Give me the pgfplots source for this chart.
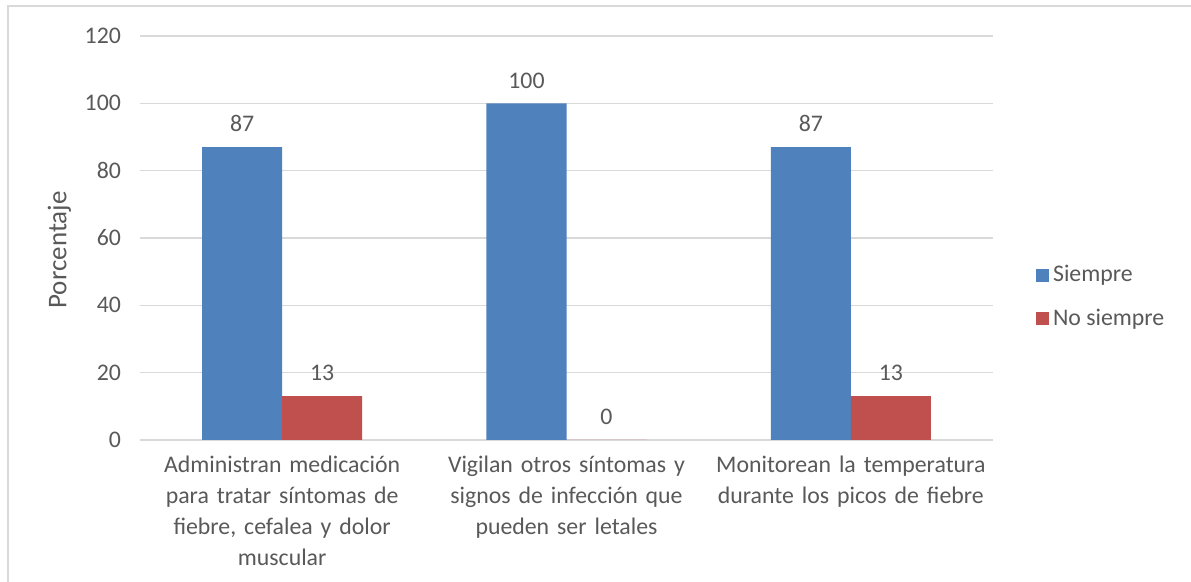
\documentclass[border=0pt]{standalone}
\usepackage{pgfplots}
\pgfplotsset{compat=1.18}
\usepackage{fontspec}
\setmainfont{Carlito}
\definecolor{txt}{HTML}{595959}
\definecolor{gridc}{HTML}{D9D9D9}
\definecolor{sblue}{HTML}{4F81BD}
\definecolor{sred}{HTML}{C0504D}
\begin{document}
\begin{tikzpicture}[x=0.5pt,y=0.5pt]
\path[use as bounding box] (0,0) rectangle (1191,582);
\fill[white] (0,0) rectangle (1191,582);
\draw[gridc, line width=1pt] (8,0) -- (8,576) -- (1191,576);
\begin{axis}[
  at={(70pt,71pt)}, anchor=south west,
  scale only axis, width=426.5pt, height=202pt,
  ybar=0pt, bar width=40pt,
  xmin=-0.5, xmax=2.5, ymin=0, ymax=120,
  ytick={0,20,...,120},
  xtick={0,1,2},
  xticklabels={{Administran medicación\\para tratar síntomas de\\fiebre, cefalea y dolor\\muscular},
               {Vigilan otros síntomas y\\signos de infección que\\pueden ser letales},
               {Monitorean la temperatura\\durante los picos de fiebre}},
  xticklabel style={align=center, text width=140pt, anchor=north, yshift=-4.5pt, font=\fontsize{11.9}{15.5}\selectfont, text=txt},
  yticklabel style={font=\fontsize{11.9}{14}\selectfont, text=txt, xshift=-6pt},
  /pgf/number format/assume math mode=true,
  major tick length=0pt,
  ymajorgrids, grid style={gridc, line width=0.8pt},
  axis line style={draw=none},
  ylabel={Porcentaje},
  ylabel style={font=\fontsize{13.5}{16}\selectfont, text=txt},
  every axis y label/.append style={at={(ticklabel cs:0.5)}, xshift=-6pt},
  nodes near coords,
  every node near coord/.append style={font=\fontsize{11.9}{14}\selectfont, text=txt, yshift=4pt},
  legend style={at={(1.043,0.354)}, anchor=west, draw=none, fill=none,
    font=\fontsize{11.9}{14}\selectfont, text=txt, row sep=8pt},
  legend image code/.code={\fill[#1] (0pt,-3.2pt) rectangle (6.5pt,3.2pt);},
  legend cell align=left,
  clip=false,
]
\addplot[fill=sblue, draw=none] coordinates {(0,87) (1,100) (2,87)};
\addplot[fill=sred, draw=none] coordinates {(0,13) (1,0) (2,13)};
\legend{Siempre, No siempre}
\end{axis}
\end{tikzpicture}
\end{document}
